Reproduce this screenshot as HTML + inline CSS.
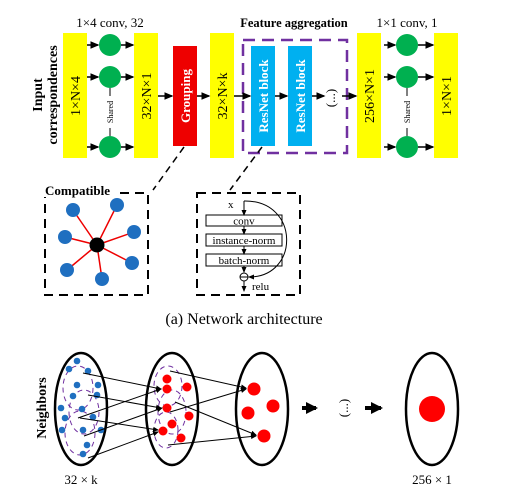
<!DOCTYPE html>
<html><head><style>body{margin:0;background:#fff}svg{display:block}text{font-family:"Liberation Serif",serif}</style></head>
<body>
<svg width="511" height="495" viewBox="0 0 511 495" xmlns="http://www.w3.org/2000/svg">
<defs>
<marker id="a" markerWidth="6" markerHeight="6" refX="5" refY="3" orient="auto"><path d="M0,0.5L6,3L0,5.5z" fill="#000"/></marker>
<marker id="s" markerWidth="14" markerHeight="14" refX="10" refY="7" orient="auto" markerUnits="userSpaceOnUse"><path d="M0,1L12,7L0,13z" fill="#000"/></marker>
</defs>
<text x="110" y="27" font-size="13" text-anchor="middle">1×4 conv, 32</text>
<text x="294" y="27" font-size="12.5" font-weight="bold" text-anchor="middle">Feature aggregation</text>
<text x="407" y="27" font-size="13" text-anchor="middle">1×1 conv, 1</text>
<text transform="translate(42,95) rotate(-90)" font-size="14" font-weight="bold" text-anchor="middle">Input</text>
<text transform="translate(57,95) rotate(-90)" font-size="14" font-weight="bold" text-anchor="middle">correspondences</text>
<rect x="63" y="33" width="24" height="125" fill="#ffff00"/>
<rect x="134" y="33" width="24" height="125" fill="#ffff00"/>
<rect x="173" y="46" width="24" height="100" fill="#ee0000"/>
<rect x="210" y="33" width="24" height="125" fill="#ffff00"/>
<rect x="357" y="33" width="24" height="125" fill="#ffff00"/>
<rect x="434" y="33" width="24" height="125" fill="#ffff00"/>
<rect x="243" y="40" width="104" height="113" fill="none" stroke="#7030a0" stroke-width="2.5" stroke-dasharray="12,7"/>
<rect x="251" y="46" width="24" height="100" fill="#00b0f0"/>
<rect x="288" y="46" width="24" height="100" fill="#00b0f0"/>
<text transform="translate(80,96) rotate(-90)" font-size="14" text-anchor="middle">1×N×4</text>
<text transform="translate(151,96) rotate(-90)" font-size="14" text-anchor="middle">32×N×1</text>
<text transform="translate(190,96) rotate(-90)" font-size="13" font-weight="bold" fill="#fff" text-anchor="middle">Grouping</text>
<text transform="translate(227,96) rotate(-90)" font-size="14" text-anchor="middle">32×N×k</text>
<text transform="translate(268,96) rotate(-90)" font-size="13" font-weight="bold" fill="#fff" text-anchor="middle">ResNet block</text>
<text transform="translate(305,96) rotate(-90)" font-size="13" font-weight="bold" fill="#fff" text-anchor="middle">ResNet block</text>
<text transform="translate(335,98) rotate(-90)" font-size="13" text-anchor="middle">(...)</text>
<text transform="translate(374,96) rotate(-90)" font-size="14" text-anchor="middle">256×N×1</text>
<text transform="translate(451,96) rotate(-90)" font-size="14" text-anchor="middle">1×N×1</text>
<g fill="#00b050">
<circle cx="110" cy="45" r="11"/><circle cx="110" cy="77" r="11"/><circle cx="110" cy="147" r="11"/>
<circle cx="407" cy="45" r="11"/><circle cx="407" cy="77" r="11"/><circle cx="407" cy="147" r="11"/>
</g>
<line x1="110" y1="88" x2="110" y2="136" stroke="#000"/>
<rect x="105" y="96" width="10" height="32" fill="#fff"/>
<text transform="translate(113,112) rotate(-90)" font-size="8" text-anchor="middle">Shared</text>
<line x1="407" y1="88" x2="407" y2="136" stroke="#000"/>
<rect x="402" y="96" width="10" height="32" fill="#fff"/>
<text transform="translate(410,112) rotate(-90)" font-size="8" text-anchor="middle">Shared</text>
<g stroke="#000" stroke-width="1.5" marker-end="url(#a)">
<line x1="87" y1="45" x2="98" y2="45"/><line x1="87" y1="77" x2="98" y2="77"/><line x1="87" y1="147" x2="98" y2="147"/>
<line x1="121" y1="45" x2="133" y2="45"/><line x1="121" y1="77" x2="133" y2="77"/><line x1="121" y1="147" x2="133" y2="147"/>
<line x1="384" y1="45" x2="395" y2="45"/><line x1="384" y1="77" x2="395" y2="77"/><line x1="384" y1="147" x2="395" y2="147"/>
<line x1="418" y1="45" x2="433" y2="45"/><line x1="418" y1="77" x2="433" y2="77"/><line x1="418" y1="147" x2="433" y2="147"/>
<line x1="158" y1="96" x2="172" y2="96"/><line x1="197" y1="96" x2="209" y2="96"/><line x1="234" y1="96" x2="250" y2="96"/>
<line x1="275" y1="96" x2="287" y2="96"/><line x1="312" y1="96" x2="324" y2="96"/><line x1="342" y1="96" x2="356" y2="96"/>
</g>
<line x1="184" y1="147" x2="153" y2="190" stroke="#000" stroke-width="1.5" stroke-dasharray="7,5"/>
<line x1="262" y1="147" x2="230" y2="190" stroke="#000" stroke-width="1.5" stroke-dasharray="7,5"/>
<rect x="45" y="193" width="103" height="102" fill="none" stroke="#000" stroke-width="2" stroke-dasharray="9,6"/>
<rect x="43" y="182" width="72" height="15" fill="#fff"/>
<text x="45" y="195" font-size="13" font-weight="bold">Compatible</text>
<g stroke="#e00" stroke-width="1.5">
<line x1="97" y1="245" x2="73" y2="210"/><line x1="97" y1="245" x2="117" y2="205"/><line x1="97" y1="245" x2="65" y2="237"/>
<line x1="97" y1="245" x2="134" y2="232"/><line x1="97" y1="245" x2="67" y2="270"/><line x1="97" y1="245" x2="132" y2="263"/><line x1="97" y1="245" x2="102" y2="279"/>
</g>
<g fill="#1f6fc0">
<circle cx="73" cy="210" r="7"/><circle cx="117" cy="205" r="7"/><circle cx="65" cy="237" r="7"/><circle cx="134" cy="232" r="7"/>
<circle cx="67" cy="270" r="7"/><circle cx="132" cy="263" r="7"/><circle cx="102" cy="279" r="7"/>
</g>
<circle cx="97" cy="245" r="7.5" fill="#000"/>
<rect x="197" y="193" width="103" height="102" fill="none" stroke="#000" stroke-width="2" stroke-dasharray="9,6"/>
<text x="228" y="208" font-size="11">x</text>
<g fill="#fff" stroke="#000">
<rect x="206" y="215" width="76" height="11"/><rect x="206" y="234" width="76" height="12"/><rect x="206" y="254" width="76" height="12"/>
</g>
<text x="244" y="224.5" font-size="11" text-anchor="middle">conv</text>
<text x="244" y="244" font-size="11" text-anchor="middle">instance-norm</text>
<text x="244" y="264" font-size="11" text-anchor="middle">batch-norm</text>
<g stroke="#000" stroke-width="1" fill="none">
<line x1="244" y1="201" x2="244" y2="215" marker-end="url(#a)"/>
<line x1="244" y1="226" x2="244" y2="234" marker-end="url(#a)"/>
<line x1="244" y1="246" x2="244" y2="254" marker-end="url(#a)"/>
<line x1="244" y1="266" x2="244" y2="272" marker-end="url(#a)"/>
<line x1="244" y1="281" x2="244" y2="291" marker-end="url(#a)"/>
<path d="M244,201 C300,200 300,277 249,277" marker-end="url(#a)"/>
<circle cx="244" cy="277" r="4"/><line x1="240" y1="277" x2="248" y2="277"/>
</g>
<text x="252" y="290" font-size="11">relu</text>
<text x="244" y="324" font-size="16" text-anchor="middle">(a)  Network architecture</text>
<g fill="none" stroke="#000" stroke-width="2.5">
<ellipse cx="81" cy="409" rx="26" ry="56"/><ellipse cx="172" cy="409" rx="26" ry="56"/>
<ellipse cx="262" cy="409" rx="26" ry="56"/><ellipse cx="432" cy="409" rx="26" ry="56"/>
</g>
<g fill="none" stroke="#7030a0" stroke-dasharray="5,4" stroke-width="1">
<ellipse cx="78" cy="388" rx="15" ry="22"/><ellipse cx="84" cy="412" rx="15" ry="22"/><ellipse cx="80" cy="433" rx="15" ry="22"/>
<ellipse cx="168" cy="386" rx="14" ry="20"/><ellipse cx="172" cy="412" rx="14" ry="22"/><ellipse cx="166" cy="430" rx="12" ry="18"/>
</g>
<g fill="#1f6fc0">
<circle cx="77" cy="361" r="3.3"/><circle cx="69" cy="369" r="3.3"/><circle cx="88" cy="371" r="3.3"/><circle cx="77" cy="385" r="3.3"/>
<circle cx="98" cy="385" r="3.3"/><circle cx="73" cy="396" r="3.3"/><circle cx="97" cy="395" r="3.3"/><circle cx="61" cy="408" r="3.3"/>
<circle cx="82" cy="409" r="3.3"/><circle cx="65" cy="418" r="3.3"/><circle cx="93" cy="417" r="3.3"/><circle cx="62" cy="430" r="3.3"/>
<circle cx="83" cy="430" r="3.3"/><circle cx="101" cy="430" r="3.3"/><circle cx="87" cy="445" r="3.3"/><circle cx="83" cy="454" r="3.3"/>
</g>
<g fill="#f00">
<circle cx="167" cy="379" r="4.5"/><circle cx="167" cy="389" r="4.5"/><circle cx="187" cy="387" r="4.5"/><circle cx="167" cy="408" r="4.5"/>
<circle cx="189" cy="416" r="4.5"/><circle cx="172" cy="424" r="4.5"/><circle cx="163" cy="431" r="4.5"/><circle cx="181" cy="438" r="4.5"/>
<circle cx="254" cy="389" r="6.5"/><circle cx="273" cy="406" r="6.5"/><circle cx="248" cy="413" r="6.5"/><circle cx="264" cy="436" r="6.5"/>
<circle cx="432" cy="409" r="13"/>
</g>
<g stroke="#000" stroke-width="1" marker-end="url(#a)">
<line x1="83" y1="373" x2="161" y2="389"/><line x1="88" y1="395" x2="161" y2="408"/><line x1="78" y1="418" x2="161" y2="389"/>
<line x1="84" y1="436" x2="162" y2="408"/><line x1="80" y1="418" x2="158" y2="430"/><line x1="88" y1="458" x2="158" y2="432"/>
<line x1="170" y1="371" x2="246" y2="388"/><line x1="170" y1="412" x2="246" y2="389"/><line x1="175" y1="402" x2="256" y2="435"/>
<line x1="168" y1="445" x2="256" y2="436"/>
</g>
<g stroke="#000" stroke-width="4" marker-end="url(#s)">
<line x1="302" y1="408" x2="316" y2="408"/><line x1="365" y1="408" x2="381" y2="408"/>
</g>
<text transform="translate(348,408) rotate(-90)" font-size="13" text-anchor="middle">(...)</text>
<text transform="translate(46,408) rotate(-90)" font-size="14" font-weight="bold" text-anchor="middle">Neighbors</text>
<text x="81" y="484" font-size="13" text-anchor="middle">32 × k</text>
<text x="432" y="484" font-size="13" text-anchor="middle">256 × 1</text>
</svg>
</body></html>
